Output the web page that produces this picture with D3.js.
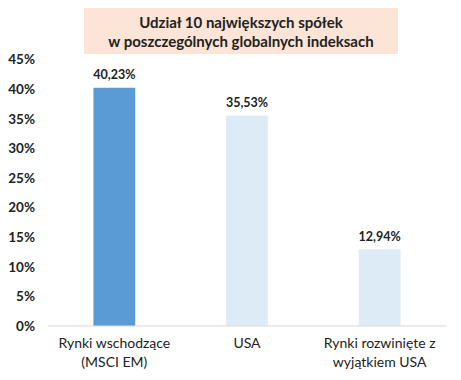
<!DOCTYPE html>
<html lang="pl">
<head>
<meta charset="UTF-8">
<title>Udział 10 największych spółek</title>
<script src="https://d3js.org/d3.v7.min.js"></script>
<style>
  body { margin: 0; background: #fff; }
  svg { display: block; font-family: Lato, "Open Sans", sans-serif; }
</style>
</head>
<body>
<script>
  // chart data
  const categories = [["Rynki wschodzące", "(MSCI EM)"], ["USA"], ["Rynki rozwinięte z", "wyjątkiem USA"]];
  const values = [40.23, 35.53, 12.94];
  const barColors = ["#5b9bd5", "#ddebf7", "#ddebf7"];
  const yTicks = [0, 5, 10, 15, 20, 25, 30, 35, 40, 45];
  const titleLines = ["Udział 10 największych spółek", "w poszczególnych globalnych indeksach"];

  const W = 461, H = 380;
  const svg = d3.select("body").append("svg").attr("width", W).attr("height", H);

  const x = d3.scaleBand().domain(d3.range(values.length)).range([48, 446]).paddingInner(0.685).paddingOuter(0.3425);
  const y = d3.scaleLinear().domain([0, 45]).range([326, 59.5]);

  // title box
  svg.append("rect").attr("x", 84).attr("y", 8).attr("width", 314).attr("height", 46).attr("fill", "#fce4d6");
  svg.append("text")
    .attr("x", 241).attr("y", 23)
    .attr("text-anchor", "middle").attr("font-weight", "bold").attr("font-size", 15).attr("fill", "#222")
    .selectAll("tspan").data(titleLines).enter().append("tspan")
    .attr("x", 241).attr("dy", (d, i) => i === 0 ? "0.35em" : 18.5)
    .text(d => d);

  // y axis labels
  const yAxis = d3.axisLeft(y).tickValues(yTicks).tickFormat(d => d + "%").tickSize(0).tickPadding(0);
  const ga = svg.append("g").attr("transform", "translate(35,0)").call(yAxis);
  ga.select(".domain").remove();
  ga.selectAll("text").attr("font-size", 13.5).attr("font-weight", "bold").attr("fill", "#222").attr("font-family", "Lato, 'Open Sans', sans-serif");

  // bars
  svg.selectAll(".bar").data(values).enter().append("rect")
    .attr("class", "bar")
    .attr("x", (d, i) => x(i))
    .attr("width", x.bandwidth())
    .attr("y", d => y(d))
    .attr("height", d => y(0) - y(d))
    .attr("fill", (d, i) => barColors[i]);

  // baseline
  const xAxis = d3.axisBottom(x).tickSize(0).tickFormat("");
  const gx = svg.append("g").attr("transform", `translate(0,${y(0)})`).call(xAxis);
  gx.select(".domain").attr("stroke", "#d9d9d9").attr("stroke-width", 1.2).attr("d", "M48,0H446");

  // value labels
  svg.selectAll(".val").data(values).enter().append("text")
    .attr("x", (d, i) => x(i) + x.bandwidth() / 2)
    .attr("y", d => y(d) - 13)
    .attr("dy", "0.35em")
    .attr("text-anchor", "middle").attr("font-weight", "bold").attr("font-size", 12.5).attr("fill", "#222")
    .text(d => d.toFixed(2).replace(".", ",") + "%");

  // category labels
  const cat = svg.selectAll(".cat").data(categories).enter().append("text")
    .attr("text-anchor", "middle").attr("font-size", 14).attr("fill", "#222");
  cat.selectAll("tspan").data((d, i) => d.map(t => ({ t, i }))).enter().append("tspan")
    .attr("x", d => x(d.i) + x.bandwidth() / 2)
    .attr("y", (d, j) => 343 + j * 19)
    .attr("dy", "0.35em")
    .text(d => d.t);
</script>
</body>
</html>
